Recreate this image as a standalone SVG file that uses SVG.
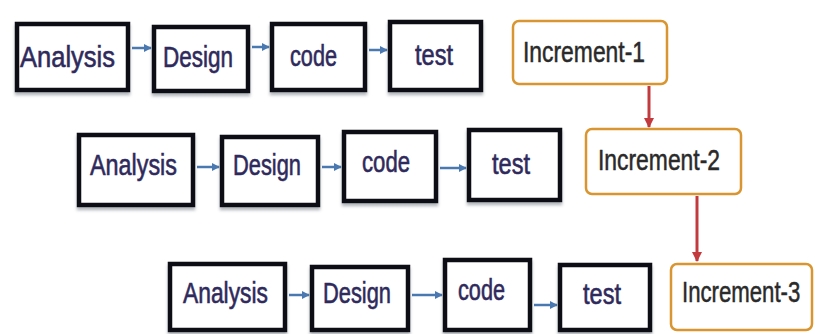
<svg xmlns="http://www.w3.org/2000/svg" width="815" height="334" viewBox="0 0 815 334">
  <defs>
    <filter id="shadow" x="-10%" y="-10%" width="120%" height="130%">
      <feDropShadow dx="0" dy="3" stdDeviation="1.5" flood-color="#5a6270" flood-opacity="0.45"/>
    </filter>
    <marker id="blueHead" viewBox="0 0 10 10" refX="9" refY="5" markerWidth="3.2" markerHeight="3.2" orient="auto" markerUnits="strokeWidth">
      <path d="M0,0 L10,5 L0,10 z" fill="#4a78b0"/>
    </marker>
    <marker id="redHead" viewBox="0 0 10 10" refX="9" refY="5" markerWidth="3.4" markerHeight="3.4" orient="auto" markerUnits="strokeWidth">
      <path d="M0,0 L10,5 L0,10 z" fill="#c23a3e"/>
    </marker>
  </defs>
  <style>
    .phase rect { fill: #ffffff; stroke: #0d0d14; stroke-width: 4.5; filter: url(#shadow); }
    .phase text { font-family: "Liberation Sans Narrow", "Liberation Sans", Arial, sans-serif; font-size: 29px; fill: #2f2a5c; stroke: #2f2a5c; stroke-width: 0.6; }
    .inc rect { fill: #ffffff; stroke: #d9952f; stroke-width: 2.5; }
    .inc text { font-family: "Liberation Sans Narrow", "Liberation Sans", Arial, sans-serif; font-size: 29px; fill: #2a2a2a; stroke: #2a2a2a; stroke-width: 0.5; }
    .flow { stroke: #4a78b0; stroke-width: 2.5; fill: none; marker-end: url(#blueHead); }
    .next { stroke: #c23a3e; stroke-width: 3; fill: none; marker-end: url(#redHead); }
  </style>

  <rect width="815" height="334" fill="#ffffff"/>

  <!-- connectors -->
  <g id="connectors">
    <line class="flow" x1="132" y1="48" x2="151" y2="48"/>
    <line class="flow" x1="252" y1="47" x2="269" y2="47"/>
    <line class="flow" x1="369" y1="50" x2="387" y2="50"/>
    <line class="flow" x1="197" y1="167" x2="219" y2="167"/>
    <line class="flow" x1="322" y1="167" x2="341" y2="167"/>
    <line class="flow" x1="440" y1="168" x2="466" y2="168"/>
    <line class="flow" x1="289" y1="295" x2="309" y2="295"/>
    <line class="flow" x1="412" y1="295" x2="442" y2="295"/>
    <line class="flow" x1="534" y1="305" x2="557" y2="305"/>
    <line class="next" x1="649" y1="86" x2="649" y2="127"/>
    <line class="next" x1="697" y1="196" x2="697" y2="261"/>
  </g>

  <!-- increment 1 -->
  <g id="analysis-1" class="phase"><rect x="17" y="24" width="111" height="66"/><text x="20" y="67" textLength="95" lengthAdjust="spacingAndGlyphs">Analysis</text></g>
  <g id="design-1" class="phase"><rect x="154" y="27" width="94" height="64"/><text x="163" y="67" textLength="70" lengthAdjust="spacingAndGlyphs">Design</text></g>
  <g id="code-1" class="phase"><rect x="272" y="24" width="93" height="66"/><text x="290" y="66" textLength="47" lengthAdjust="spacingAndGlyphs">code</text></g>
  <g id="test-1" class="phase"><rect x="390" y="22" width="91" height="68"/><text x="415" y="65" textLength="38" lengthAdjust="spacingAndGlyphs">test</text></g>
  <g id="increment-1" class="inc"><rect x="513" y="21" width="154" height="63" rx="6"/><text x="523" y="62" textLength="122" lengthAdjust="spacingAndGlyphs">Increment-1</text></g>

  <!-- increment 2 -->
  <g id="analysis-2" class="phase"><rect x="79" y="135" width="114" height="70"/><text x="90" y="175" textLength="87" lengthAdjust="spacingAndGlyphs">Analysis</text></g>
  <g id="design-2" class="phase"><rect x="222" y="137" width="96" height="68"/><text x="233" y="175" textLength="68" lengthAdjust="spacingAndGlyphs">Design</text></g>
  <g id="code-2" class="phase"><rect x="344" y="132" width="92" height="69"/><text x="362" y="172" textLength="48" lengthAdjust="spacingAndGlyphs">code</text></g>
  <g id="test-2" class="phase"><rect x="469" y="130" width="91" height="70"/><text x="492" y="174" textLength="38" lengthAdjust="spacingAndGlyphs">test</text></g>
  <g id="increment-2" class="inc"><rect x="586" y="129" width="155" height="65" rx="6"/><text x="598" y="170" textLength="122" lengthAdjust="spacingAndGlyphs">Increment-2</text></g>

  <!-- increment 3 -->
  <g id="analysis-3" class="phase"><rect x="170" y="264" width="115" height="66"/><text x="183" y="303" textLength="85" lengthAdjust="spacingAndGlyphs">Analysis</text></g>
  <g id="design-3" class="phase"><rect x="312" y="267" width="96" height="63"/><text x="323" y="303" textLength="68" lengthAdjust="spacingAndGlyphs">Design</text></g>
  <g id="code-3" class="phase"><rect x="445" y="260" width="85" height="70"/><text x="458" y="300" textLength="47" lengthAdjust="spacingAndGlyphs">code</text></g>
  <g id="test-3" class="phase"><rect x="560" y="265" width="90" height="65"/><text x="583" y="304" textLength="38" lengthAdjust="spacingAndGlyphs">test</text></g>
  <g id="increment-3" class="inc"><rect x="671" y="264" width="141" height="66" rx="6"/><text transform="translate(682,302) scale(0.765,1)">Increment-3</text></g>
</svg>
